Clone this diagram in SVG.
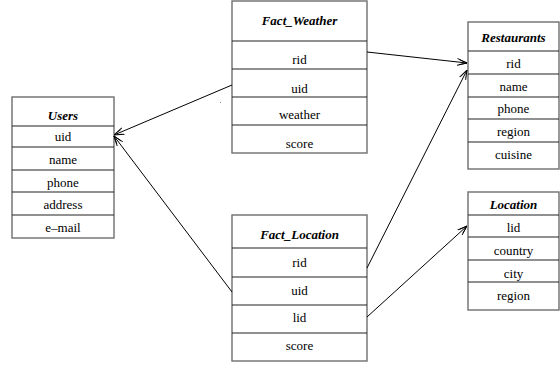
<svg xmlns="http://www.w3.org/2000/svg" width="560" height="366" viewBox="0 0 560 366">
<defs>
<style>
.box{fill:#fff;stroke:#6e6e6e;stroke-width:1.4}
.div{stroke:#222;stroke-width:1.1}
text{font-family:'Liberation Serif','Times New Roman','DejaVu Serif',serif;font-size:13px;fill:#000;text-anchor:middle}
.h{font-weight:bold;font-style:italic}
.c{fill:none;stroke:#000;stroke-width:1;marker-end:url(#arr)}
</style>
<marker id="arr" viewBox="0 0 10 8" refX="10" refY="4" markerWidth="10" markerHeight="8" markerUnits="userSpaceOnUse" orient="auto">
<path d="M0,0.5 L10,4 L0,7.5 M2,1.5 L10,4 L2,6.5" fill="none" stroke="#000" stroke-width="0.9"/>
</marker>
</defs>
<rect width="560" height="366" fill="#fff"/>
<g id="users">
<rect class="box" x="12" y="97" width="102" height="141"/>
<path class="div" d="M12,126H114M12,147H114M12,170H114M12,192H114M12,215H114"/>
<text class="h" x="63" y="120">Users</text>
<text x="63" y="141">uid</text>
<text x="63" y="164">name</text>
<text x="63" y="186.5">phone</text>
<text x="63" y="208.5">address</text>
<text x="63" y="232">e–mail</text>
</g>
<g id="fact_weather">
<rect class="box" x="232" y="1" width="135" height="152"/>
<path class="div" d="M232,41H367M232,69H367M232,97H367M232,125H367"/>
<text class="h" x="299.5" y="24.5">Fact_Weather</text>
<text x="299.5" y="63.5">rid</text>
<text x="299.5" y="92.5">uid</text>
<text x="299.5" y="119">weather</text>
<text x="299.5" y="148">score</text>
</g>
<g id="fact_location">
<rect class="box" x="232" y="215" width="135" height="146"/>
<path class="div" d="M232,248H367M232,277H367M232,305H367M232,333H367"/>
<text class="h" x="299.5" y="238.5">Fact_Location</text>
<text x="299.5" y="266.5">rid</text>
<text x="299.5" y="295">uid</text>
<text x="299.5" y="322">lid</text>
<text x="299.5" y="350">score</text>
</g>
<g id="restaurants">
<rect class="box" x="468" y="22" width="91" height="147"/>
<path class="div" d="M468,51H559M468,74H559M468,97H559M468,119H559M468,142H559"/>
<text class="h" x="513.5" y="42">Restaurants</text>
<text x="513.5" y="67.5">rid</text>
<text x="513.5" y="91">name</text>
<text x="513.5" y="113">phone</text>
<text x="513.5" y="136">region</text>
<text x="513.5" y="159">cuisine</text>
</g>
<g id="location">
<rect class="box" x="468" y="192" width="91" height="118"/>
<path class="div" d="M468,215H559M468,237H559M468,260H559M468,282H559"/>
<text class="h" x="513.5" y="209">Location</text>
<text x="513.5" y="232">lid</text>
<text x="513.5" y="255">country</text>
<text x="513.5" y="277.5">city</text>
<text x="513.5" y="300">region</text>
</g>
<g id="connectors">
<path class="c" d="M232,85L114,135"/>
<path class="c" d="M232,292L114,136"/>
<path class="c" d="M367,52L467,63"/>
<path class="c" d="M367,268L467,70"/>
<path class="c" d="M367,317L467,226"/>
</g>
<rect x="220" y="102" width="1" height="1" fill="#888"/>
</svg>
